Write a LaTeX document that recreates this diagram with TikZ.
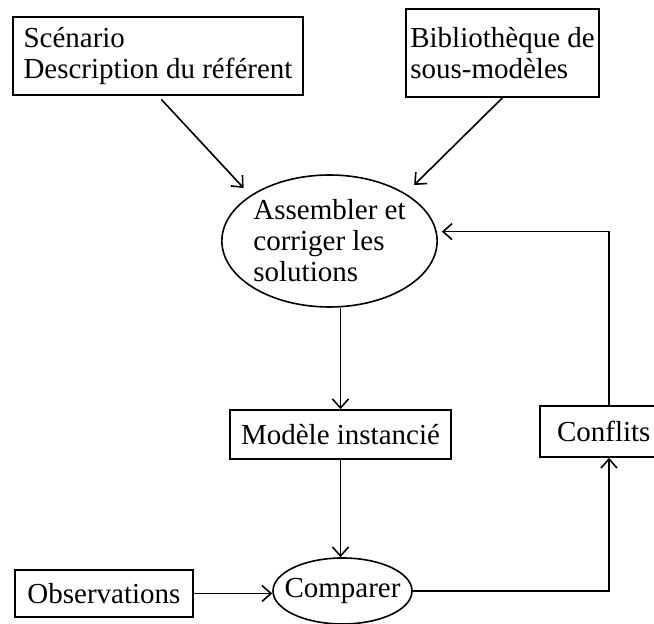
\documentclass[tikz,border=0pt]{standalone}
\usepackage{fontspec}
\setmainfont{Liberation Serif}
\usetikzlibrary{arrows.meta,shapes.geometric}

\begin{document}
\begin{tikzpicture}[x=0.5pt,y=-0.5pt,line width=0.8pt,
    >={Straight Barb[length=4.5pt,width=8pt]},
    font=\fontsize{14.5}{15.5}\selectfont,
    boite/.style={draw,rectangle,inner sep=0pt,align=left},
    bulle/.style={draw,ellipse,inner sep=0pt,align=left}]
  \useasboundingbox (0,0) rectangle (654,624);
  \node[boite,minimum width=145pt,minimum height=39pt] (Sc) at (158,56)
    {Scénario\\Description du référent};
  \node[boite,minimum width=96.5pt,minimum height=44pt] (Bib) at (502.5,53)
    {Bibliothèque de\\sous-modèles};
  \node[bulle,minimum width=107.5pt,minimum height=66pt] (As) at (329.5,241)
    {Assembler et\\corriger les\\solutions};
  \node[boite,minimum width=110.5pt,minimum height=24.5pt] (Mo) at (340.5,434.5)
    {Modèle instancié};
  \node[boite,text width=52pt,inner xsep=8.5pt,minimum height=25.5pt] (Cf) at (609,431.5)
    {Conflits};
  \node[bulle,inner xsep=-4.5pt,minimum width=69.5pt,minimum height=33pt] (Co) at (342.5,591)
    {Comparer};
  \node[boite,minimum width=89pt,minimum height=23.5pt] (Ob) at (104,593.5)
    {Observations};
  \draw[->,shorten <=2.5pt,shorten >=5pt] (Sc.south) -- (As.150);
  \draw[->,shorten >=6pt] (Bib.south) -- (As.32);
  \draw[->] (Mo.north |- As.south) -- (Mo.north);
  \draw[->] (Mo.south) -- (Mo.south |- Co.north);
  \draw[->] (Ob.east) -- (Ob.east -| Co.west);
  \draw[->] (Co.east) -| (Cf.south);
  \draw[->,shorten >=2.5pt] (Cf.north) |- (As.5);
\end{tikzpicture}
\end{document}
